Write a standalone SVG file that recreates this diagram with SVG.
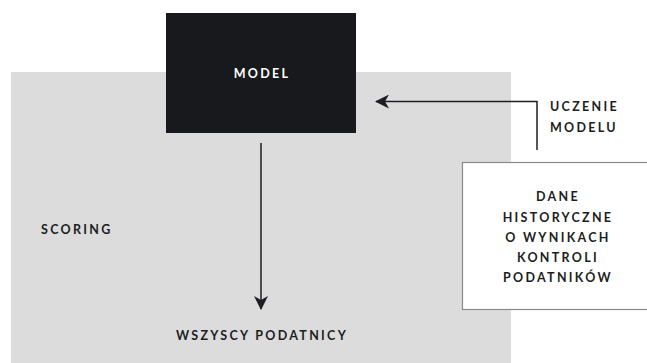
<svg xmlns="http://www.w3.org/2000/svg" width="647" height="363" viewBox="0 0 647 363">
  <style>
    .lbl { font-family: Lato, "Liberation Sans", sans-serif; font-weight: 700; font-size: 12.5px; letter-spacing: 2.3px; fill: #1c1e22; }
    .inv { fill: #ffffff; }
    .mid { text-anchor: middle; }
    .wire { fill: none; stroke: #1c1e22; stroke-width: 1.5; }
  </style>
  <defs>
    <marker id="head" viewBox="0 0 14 14" refX="13" refY="7" markerWidth="14" markerHeight="14" markerUnits="userSpaceOnUse" orient="auto">
      <path d="M0,0 L14,7 L0,14 L4,7 Z" fill="#1c1e22"/>
    </marker>
  </defs>

  <!-- scoring area -->
  <g id="scoring">
    <rect x="11" y="72" width="500" height="291" fill="#dcdcdc"/>
    <text class="lbl" x="41" y="234">SCORING</text>
  </g>

  <!-- model block -->
  <g id="model">
    <rect x="166" y="13" width="190" height="120" fill="#17191d"/>
    <text class="lbl inv mid" x="262" y="78">MODEL</text>
  </g>

  <!-- historical data -->
  <g id="dane">
    <rect x="462.5" y="162.5" width="190" height="147" fill="#ffffff" stroke="#8a8a8a" stroke-width="1.2"/>
    <text class="lbl mid" x="558" y="201">DANE</text>
    <text class="lbl mid" x="558" y="222">HISTORYCZNE</text>
    <text class="lbl mid" x="558" y="242">O WYNIKACH</text>
    <text class="lbl mid" x="558" y="262">KONTROLI</text>
    <text class="lbl mid" x="558" y="282">PODATNIKÓW</text>
  </g>

  <!-- training label -->
  <g id="uczenie">
    <text class="lbl" x="550" y="111">UCZENIE</text>
    <text class="lbl" x="550" y="132">MODELU</text>
  </g>

  <!-- all taxpayers -->
  <g id="podatnicy">
    <text class="lbl mid" x="262" y="340">WSZYSCY PODATNICY</text>
  </g>

  <!-- connectors -->
  <g id="connectors">
    <path class="wire" d="M261,143 V309" marker-end="url(#head)"/>
    <path class="wire" d="M537,150 V101.5 H376" marker-end="url(#head)"/>
  </g>
</svg>
